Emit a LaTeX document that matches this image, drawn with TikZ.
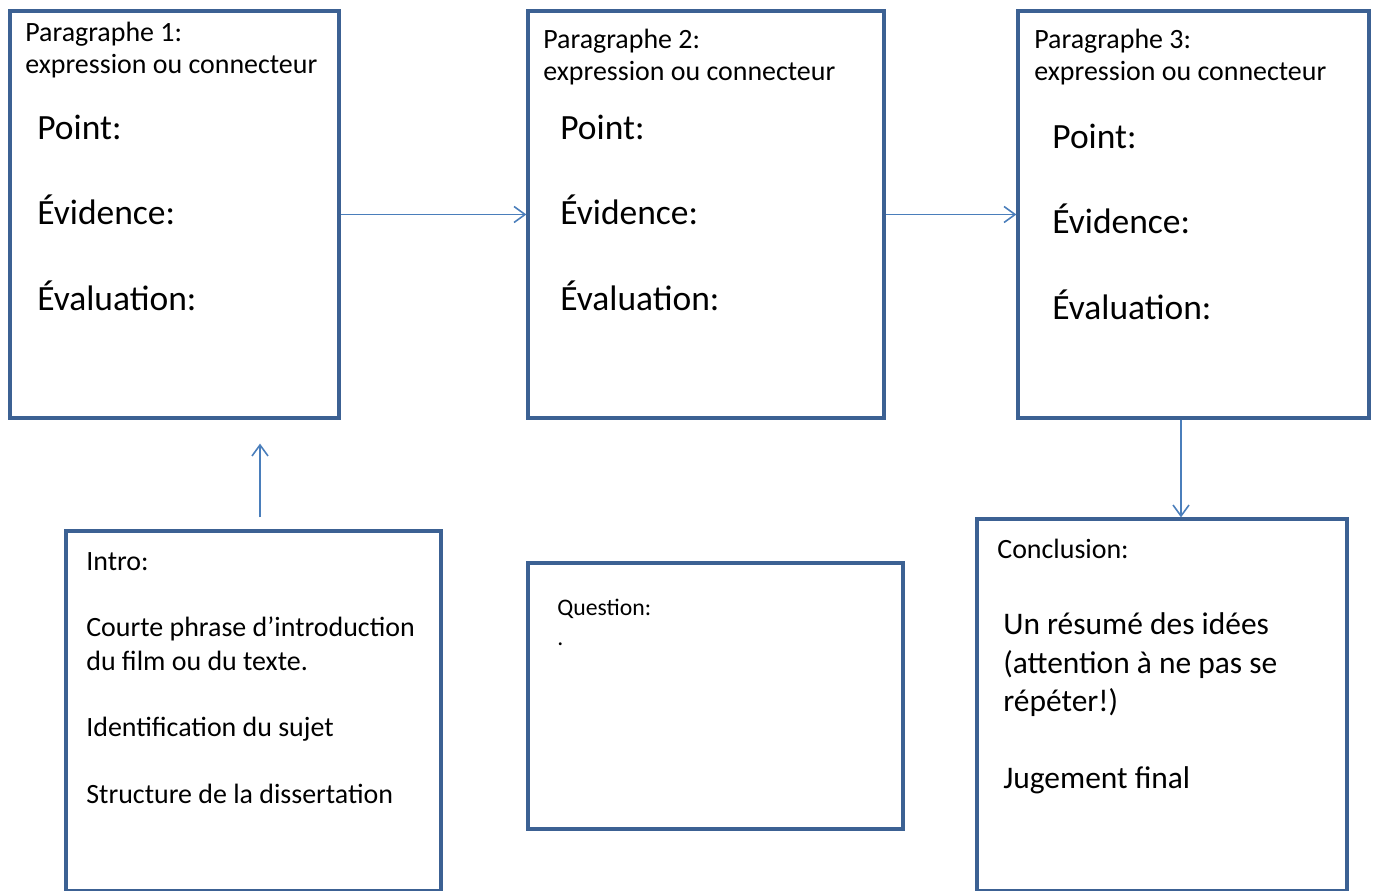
\documentclass[tikz,border=0pt]{standalone}
\usepackage{fontspec}
\setmainfont{Carlito}
\usetikzlibrary{arrows.meta, positioning}
\definecolor{boxblue}{HTML}{3C6193}
\definecolor{linkblue}{HTML}{4A7EBB}

\begin{document}
\begin{tikzpicture}[x=0.02cm, y=-0.02cm,
    cadre/.style={draw=boxblue, line width=1.9pt, inner sep=0pt},
    titre/.style={anchor=base west, inner sep=0pt, align=left, font=\fontsize{15.9}{18.6}\selectfont},
    grand/.style={anchor=base west, inner sep=0pt, font=\fontsize{20.2}{24}\selectfont},
    lien/.style={draw=linkblue, line width=0.9pt, -{Straight Barb[length=2.2mm, width=3.2mm]}}]
  \useasboundingbox (0,0) rectangle (1375,891);

  % Paragraph boxes on top row
  \node[cadre, minimum width=6.58cm, minimum height=8.14cm] (p1) at (174.5,214.5) {};
  \node[cadre, minimum width=7.12cm, minimum height=8.14cm] (p2) at (706,214.5) {};
  \node[cadre, minimum width=7.02cm, minimum height=8.14cm] (p3) at (1193.5,214.5) {};

  % Bottom row (cut by the page edge)
  \node[cadre, minimum width=7.5cm, minimum height=7.2cm] (intro) at (253.5,711) {};
  \node[cadre, minimum width=7.5cm, minimum height=5.32cm] (question) at (715.5,696) {};
  \node[cadre, minimum width=7.4cm, minimum height=7.44cm] (conclusion) at (1162,705) {};

  % Paragraph 1 (base = last line)
  \node[titre] (p1head) at (25,74) {Paragraphe 1:\\expression ou connecteur};
  \node[grand] (p1point) at (37,140) {Point:};
  \node[grand] (p1evid) at (37,225) {Évidence:};
  \node[grand] (p1eval) at (37,311) {Évaluation:};

  % Paragraph 2
  \node[titre] (p2head) at (543,81) {Paragraphe 2:\\expression ou connecteur};
  \node[grand] (p2point) at (560,140) {Point:};
  \node[grand] (p2evid) at (560,225) {Évidence:};
  \node[grand] (p2eval) at (560,311) {Évaluation:};

  % Paragraph 3
  \node[titre] (p3head) at (1034,81) {Paragraphe 3:\\expression ou connecteur};
  \node[grand] (p3point) at (1052,149) {Point:};
  \node[grand] (p3evid) at (1052,234) {Évidence:};
  \node[grand] (p3eval) at (1052,320) {Évaluation:};

  % Intro, question, conclusion
  \node[titre, font=\fontsize{15.9}{18.9}\selectfont] (introtext) at (86,803)
    {Intro:\\[18.9pt]Courte phrase d’introduction\\du film ou du texte.\\[18.9pt]Identification du sujet\\[18.9pt]Structure de la dissertation};
  \node[titre, font=\fontsize{13.5}{17}\selectfont] (questiontext) at (557,645) {Question:\\.};
  \node[titre] (conchead) at (997,558) {Conclusion:};
  \node[titre, font=\fontsize{17.9}{21.8}\selectfont] (conctext) at (1003,788)
    {Un résumé des idées\\(attention à ne pas se\\répéter!)\\[21.8pt]Jugement final};

  % Connectors
  \draw[lien] (p1.east) -- (p2.west);
  \draw[lien] (p2.east) -- (p3.west);
  \draw[lien] ([xshift=-0.25cm]p3.south) -- ([xshift=-0.25cm]p3.south |- conclusion.north);
  \draw[lien, shorten >=0.48cm] ([xshift=0.13cm, yshift=0.24cm]intro.north) -- ([xshift=0.13cm]intro.north |- p1.south);
\end{tikzpicture}
\end{document}
